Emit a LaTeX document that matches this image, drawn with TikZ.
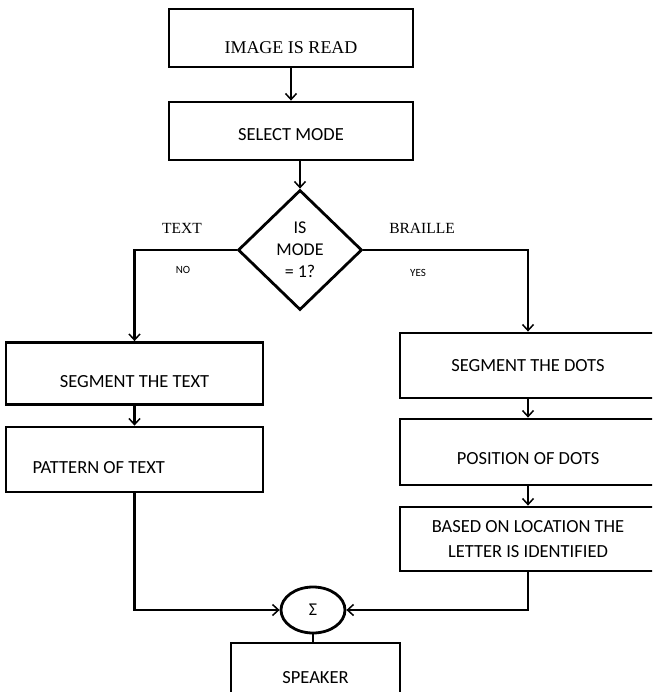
\documentclass[tikz,border=0pt]{standalone}
\usepackage{fontspec}
\setmainfont{Carlito}
\newfontfamily\timesfont{Liberation Serif}
\usetikzlibrary{shapes.geometric,arrows.meta}

\begin{document}
\begin{tikzpicture}[x=1pt,y=-1pt]
\tikzstyle{every node}+=[inner sep=0pt]
\tikzstyle{box}=[draw,rectangle,line width=2.8pt,font=\fontsize{18.5}{25}\selectfont,text height=28pt,text depth=0pt]
\tikzstyle{flow}=[line width=2.2pt,-{Straight Barb[length=6pt,width=11pt,line width=1.5pt]}]
\tikzstyle{side}=[font=\timesfont\fontsize{15.5}{15.5}\selectfont]
\tikzstyle{small}=[font=\fontsize{11}{11}\selectfont]
\useasboundingbox (0,0) rectangle (652,692);
\clip (0,0) rectangle (652,692);
\node [box,font=\timesfont\fontsize{18}{25}\selectfont,text height=32pt,minimum width=244pt,minimum height=58pt] (read) at (291,38) {IMAGE IS READ};
\node [box,text height=20pt,minimum width=244pt,minimum height=58pt] (select) at (291,131) {SELECT MODE};
\node [draw,diamond,line width=2.8pt,minimum width=124pt,minimum height=120pt,align=center,font=\fontsize{18}{22}\selectfont] (mode) at (300,250) {IS\\MODE\\= 1?};
\node [side] (textlbl) at (182,228) {TEXT};
\node [side] (braillelbl) at (422,228) {BRAILLE};
\node [small] (nolbl) at (183,270) {NO};
\node [small] (yeslbl) at (418,273) {YES};
\node [box,minimum width=257pt,minimum height=62pt] (segtext) at (134.5,373.5) {SEGMENT THE TEXT};
\node [box,minimum width=257pt,minimum height=65pt,text width=204pt,align=flush left] (pattern) at (134.5,459.5) {PATTERN OF TEXT};
\node [box,text height=,text depth=,minimum width=256pt,minimum height=65pt] (segdots) at (528,365.5) {SEGMENT THE DOTS};
\node [box,text height=24pt,minimum width=256pt,minimum height=66pt] (posdots) at (528,452) {POSITION OF DOTS};
\node [box,text height=,text depth=,minimum width=256pt,minimum height=64pt,align=center] (letter) at (528,539) {BASED ON LOCATION THE\\LETTER IS IDENTIFIED};
\node [draw,ellipse,line width=2.8pt,minimum width=64pt,minimum height=46pt,font=\fontsize{18}{18}\selectfont] (sum) at (313,610) {\raisebox{-4pt}{Σ}};
\node [box,text height=20pt,minimum width=169pt,minimum height=60pt] (speaker) at (315.5,673) {SPEAKER};
\draw [flow] (read) -- (read |- select.north);
\draw [flow] (select.south -| mode.north) -- (mode.north);
\draw [flow] (mode.west) -| (segtext.north);
\draw [flow] (mode.east) -| (segdots.north);
\draw [flow] (segtext) -- (pattern);
\draw [flow] (segdots) -- (posdots);
\draw [flow] (posdots) -- (letter);
\draw [flow] (pattern.south) |- (sum.west);
\draw [flow] (letter.south) |- (sum.east);
\draw [line width=2.2pt] (sum.south) -- (sum.south |- speaker.north);
\end{tikzpicture}
\end{document}
